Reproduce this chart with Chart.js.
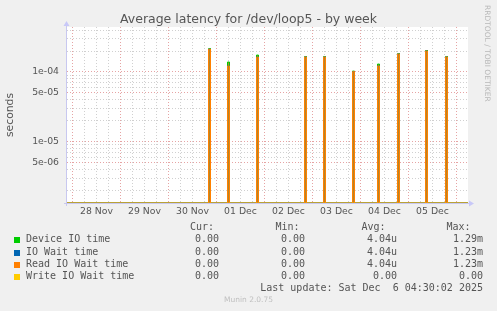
<!DOCTYPE html>
<html lang="en">
<head>
<meta charset="UTF-8" />
<title>Average latency for /dev/loop5 - by week</title>
<script src="https://cdn.jsdelivr.net/npm/chart.js"></script>
<style>
  body { margin: 0; background: #f0f0f0; }
  #wrap { position: relative; width: 497px; height: 311px; overflow: hidden; font-family: "DejaVu Sans", sans-serif; color: #555; }
  #wrap canvas { position: absolute; left: 0; top: 0; }
  .t { position: absolute; white-space: pre; line-height: 12px; height: 12px; }
  .mono { font-family: "DejaVu Sans Mono", monospace; font-size: 10px; }
  .sq { position: absolute; width: 6px; height: 6px; }
</style>
</head>
<body>
<div id="wrap">
  <canvas id="chart" width="497" height="311"></canvas>
  <div class="t" style="left:0;width:497px;top:12px;text-align:center;font-size:12.5px;line-height:14px;height:14px;">Average latency for /dev/loop5 - by week</div>
  <div class="t" style="left:482px;top:5px;writing-mode:vertical-rl;font-size:7.5px;line-height:10px;height:auto;width:10px;color:#b8b8b8;">RRDTOOL / TOBI OETIKER</div>
  <div id="legend"></div>
  <div class="t mono" style="right:14px;top:282px;text-align:right;">Last update: Sat Dec  6 04:30:02 2025</div>
  <div class="t" style="left:0;width:497px;top:294px;text-align:center;font-size:7.5px;color:#c0c0c0;">Munin 2.0.75</div>
</div>

<script>
  // time in hours since 28 Nov 00:00
  const dayLabels = ['28 Nov', '29 Nov', '30 Nov', '01 Dec', '02 Dec', '03 Dec', '04 Dec', '05 Dec'];
  const yTickLabels = ['1e-04', '5e-05', '1e-05', '5e-06'];

  const spikeHours = [68, 77.5, 92, 116, 125.5, 140, 152.5, 162.5, 176.5, 186.5];
  const deviceIO  = [2.16e-4, 1.39e-4, 1.75e-4, 1.66e-4, 1.66e-4, 1.03e-4, 1.30e-4, 1.83e-4, 2.03e-4, 1.66e-4];
  const ioWait    = [2.12e-4, 1.22e-4, 1.63e-4, 1.64e-4, 1.64e-4, 1.01e-4, 1.22e-4, 1.81e-4, 2.00e-4, 1.64e-4];
  const readWait  = [2.12e-4, 1.22e-4, 1.63e-4, 1.64e-4, 1.64e-4, 1.01e-4, 1.22e-4, 1.81e-4, 2.00e-4, 1.64e-4];
  const writeWait = [0, 0, 0, 0, 0, 0, 0, 0, 0, 0];

  const legendNames = ['Device IO time', 'IO Wait time', 'Read IO Wait time', 'Write IO Wait time'];
  const legendColors = ['#00cc00', '#0066b3', '#ff8000', '#ffcc00'];
  const curVals = ['0.00', '0.00', '0.00', '0.00'];
  const minVals = ['0.00', '0.00', '0.00', '0.00'];
  const avgVals = ['4.04u', '4.04u', '4.04u', '0.00'];
  const maxVals = ['1.29m', '1.23m', '1.23m', '0.00'];

  // 2 px per hour, half hours land on pixel centres
  const xMin = -2.75, xMax = 197.75;
  const yMin = 1.32e-6, yMax = 4.42e-4;
  const spikeWidth = 1; // hours

  // log axis drops zeros, so zero samples sit on the bottom of the axis
  const lv = v => Math.max(v, yMin);

  function spikeSeries(peaks) {
    const pts = [{ x: xMin, y: yMin }];
    spikeHours.forEach((t, i) => {
      pts.push({ x: t, y: yMin }, { x: t, y: lv(peaks[i]) }, { x: t + spikeWidth, y: lv(peaks[i]) }, { x: t + spikeWidth, y: yMin });
    });
    pts.push({ x: xMax, y: yMin });
    return pts;
  }

  // legend table
  const leg = document.getElementById('legend');
  let html = '';
  const rowY = [233, 245.5, 257.5, 269.5];
  [['Cur:', 190], ['Min:', 275.5], ['Avg:', 361.5], ['Max:', 446.5]].forEach(([h, x]) => {
    html += `<div class="t mono" style="left:${x}px;top:221px;">${h}</div>`;
  });
  legendNames.forEach((name, i) => {
    const y = rowY[i];
    html += `<div class="sq" style="left:14px;top:${y + 4}px;background:${legendColors[i]}"></div>`;
    html += `<div class="t mono" style="left:26px;top:${y}px;">${name}</div>`;
    html += `<div class="t mono" style="right:${497 - 219}px;top:${y}px;text-align:right;">${curVals[i]}</div>`;
    html += `<div class="t mono" style="right:${497 - 305}px;top:${y}px;text-align:right;">${minVals[i]}</div>`;
    html += `<div class="t mono" style="right:${497 - 397}px;top:${y}px;text-align:right;">${avgVals[i]}</div>`;
    html += `<div class="t mono" style="right:${497 - 483}px;top:${y}px;text-align:right;">${maxVals[i]}</div>`;
  });
  leg.innerHTML = html;

  const majorY = yTickLabels.map(s => parseFloat(s));
  const isMajorY = v => majorY.some(m => Math.abs(v - m) / m < 1e-6);

  const frame = {
    id: 'frame',
    beforeDraw(c) {
      const a = c.chartArea, g = c.ctx;
      g.save();
      g.fillStyle = '#ffffff';
      g.fillRect(a.left, a.top, a.right - a.left, a.bottom - a.top);
      g.restore();
    },
    beforeDatasetsDraw(c) {
      const a = c.chartArea, g = c.ctx;
      g.save();
      g.strokeStyle = '#c8c8f0';
      g.lineWidth = 1;
      g.beginPath();
      g.moveTo(a.left - 0.5, a.bottom + 3);
      g.lineTo(a.left - 0.5, a.top - 2);
      g.moveTo(a.left - 3, a.bottom + 0.5);
      g.lineTo(a.right + 2, a.bottom + 0.5);
      g.stroke();
      g.restore();
    },
    afterDraw(c) {
      const a = c.chartArea, g = c.ctx;
      g.save();
      g.fillStyle = '#c8c8f8';
      g.beginPath();
      g.moveTo(a.left - 3.5, a.top - 1);
      g.lineTo(a.left + 2.5, a.top - 1);
      g.lineTo(a.left - 0.5, a.top - 6);
      g.closePath();
      g.fill();
      g.beginPath();
      g.moveTo(a.right + 1, a.bottom - 2.5);
      g.lineTo(a.right + 1, a.bottom + 3.5);
      g.lineTo(a.right + 6, a.bottom + 0.5);
      g.closePath();
      g.fill();
      g.restore();
    }
  };

  const font = { family: '"DejaVu Sans", sans-serif', size: 9.3 };

  new Chart(document.getElementById('chart'), {
    type: 'line',
    data: {
      datasets: [
        { label: 'Device IO time', data: spikeSeries(deviceIO), borderColor: '#00cc00', backgroundColor: '#b0862e', fill: 'start', order: 4 },
        { label: 'IO Wait time', data: spikeSeries(ioWait), borderColor: '#0066b3', fill: false, order: 3 },
        { label: 'Read IO Wait time', data: spikeSeries(readWait), borderColor: '#ff8000', fill: false, order: 2 },
        { label: 'Write IO Wait time', data: spikeSeries(writeWait), borderColor: 'rgba(255,204,0,0.55)', fill: false, order: 1 }
      ]
    },
    options: {
      responsive: false,
      animation: false,
      devicePixelRatio: 1,
      layout: { padding: { top: 27, right: 29, bottom: 88, left: 0 } },
      elements: { point: { radius: 0 }, line: { borderWidth: 1, tension: 0 } },
      plugins: { legend: { display: false }, tooltip: { enabled: false } },
      scales: {
        x: {
          type: 'linear',
          min: xMin,
          max: xMax,
          afterFit: s => { s.height = 20; },
          afterBuildTicks: s => {
            const t = [];
            for (let h = 0; h <= xMax; h += 6) t.push({ value: h });
            s.ticks = t;
          },
          ticks: {
            autoSkip: false,
            maxRotation: 0,
            padding: 3,
            color: '#555',
            font: font,
            callback: v => (v % 24 === 12 ? dayLabels[(v - 12) / 24] : '')
          },
          grid: {
            drawTicks: false,
            color: c => (c.tick && c.tick.value % 24 === 0 ? '#e6a4a4' : '#d0d0d0')
          },
          border: { display: false, dash: [1, 2] }
        },
        y: {
          type: 'logarithmic',
          min: yMin,
          max: yMax,
          afterFit: s => { s.width = 67; },
          afterBuildTicks: s => {
            const t = [];
            for (let e = -6; e <= -4; e++) {
              for (let m = 1; m <= 9; m++) {
                const v = m * Math.pow(10, e);
                if (v >= s.min && v <= s.max) t.push({ value: v });
              }
            }
            s.ticks = t;
          },
          ticks: {
            autoSkip: false,
            padding: 8,
            color: '#555',
            font: font,
            callback: v => {
              const i = majorY.findIndex(m => Math.abs(v - m) / m < 1e-6);
              return i >= 0 ? yTickLabels[i] : '';
            }
          },
          grid: {
            drawTicks: false,
            color: c => (c.tick && isMajorY(c.tick.value) ? '#e6a4a4' : '#d0d0d0')
          },
          border: { display: false, dash: [1, 2] },
          title: {
            display: true,
            text: 'seconds',
            color: '#555',
            font: { family: '"DejaVu Sans", sans-serif', size: 10.8 },
            padding: { top: 4, bottom: 0 }
          }
        }
      }
    },
    plugins: [frame]
  });
</script>
</body>
</html>
